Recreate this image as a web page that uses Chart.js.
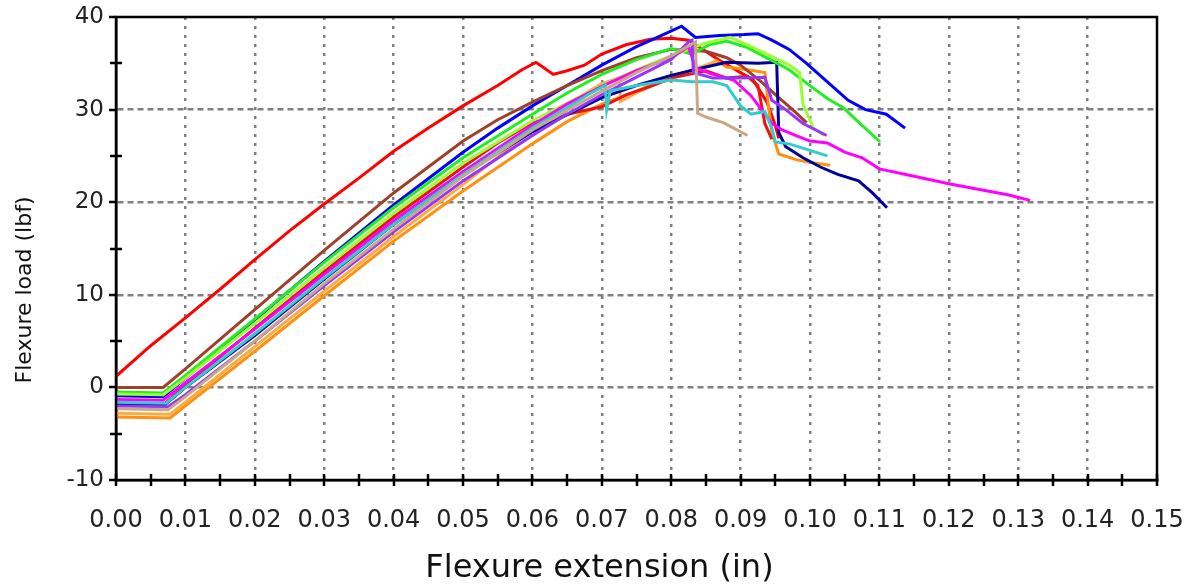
<!DOCTYPE html>
<html>
<head>
<meta charset="utf-8">
<title>Flexure load vs extension</title>
<script src="https://cdn.jsdelivr.net/npm/chart.js@4/dist/chart.umd.min.js"></script>
<style>
  html, body { margin: 0; padding: 0; background: #fff; }
  #wrap { width: 1199px; height: 588px; }
</style>
</head>
<body>
<div id="wrap"><canvas id="flexChart"></canvas></div>
<script>
// axis ranges / tick labels
const xTickLabels = ['0.00','0.01','0.02','0.03','0.04','0.05','0.06','0.07','0.08','0.09','0.10','0.11','0.12','0.13','0.14','0.15'];
const yTickLabels = [-10, 0, 10, 20, 30, 40];
const xTitle = 'Flexure extension (in)';
const yTitle = 'Flexure load (lbf)';

// specimen curves, [extension (in), load (lbf)]
const redEarly = [[0,1.2],[0.005,4.5],[0.01,7.5],[0.015,10.6],[0.02,13.8],[0.025,16.9],[0.03,19.8],[0.035,22.6],[0.04,25.5],[0.045,28.0],[0.05,30.4],[0.055,32.6],[0.0585,34.3],[0.0605,35.1],[0.0615,34.6],[0.063,33.8],[0.065,34.2],[0.0675,34.8],[0.07,36.0],[0.0735,37.0],[0.077,37.6],[0.08,37.7],[0.0825,37.5],[0.087,35.3],[0.0918,33.2],[0.0938,30.8],[0.095,28.3],[0.0955,26.9]];
const redLate = [[0,-1.8],[0.0068,-1.9],[0.01,0.2],[0.02,6.4],[0.03,12.5],[0.04,18.4],[0.05,23.8],[0.055,26.4],[0.06,28.6],[0.065,29.5],[0.07,30.3],[0.0735,31.6],[0.077,32.5],[0.0805,33.5],[0.085,34.2],[0.088,33.4],[0.091,33.6],[0.0925,32.6],[0.0935,28.5],[0.0945,26.8]];
const brown = [[0,0],[0.0068,0],[0.01,2.0],[0.02,8.4],[0.03,14.8],[0.04,21.0],[0.05,26.6],[0.055,28.9],[0.06,30.8],[0.065,32.6],[0.07,34.2],[0.075,35.6],[0.08,36.5],[0.085,36.3],[0.088,35.6],[0.09,34.8],[0.093,33.0],[0.0955,31.3],[0.0975,30.0],[0.0995,28.6]];
const blue = [[0,-0.9],[0.0068,-1.0],[0.01,1.0],[0.02,7.3],[0.03,13.6],[0.04,19.7],[0.05,25.4],[0.055,28.0],[0.06,30.4],[0.065,32.6],[0.07,34.8],[0.075,36.8],[0.078,37.8],[0.0815,39.0],[0.0835,37.8],[0.087,38.0],[0.0905,38.1],[0.0925,38.2],[0.0945,37.5],[0.097,36.5],[0.0995,35.0],[0.1025,33.0],[0.1055,31.0],[0.108,30.0],[0.111,29.5],[0.1137,28.0]];
const navy = [[0,-1.8],[0.007,-1.9],[0.01,0.0],[0.02,5.6],[0.03,11.7],[0.04,17.6],[0.05,23.0],[0.06,27.6],[0.07,31.3],[0.075,32.6],[0.08,33.7],[0.085,34.6],[0.088,35.1],[0.0925,35.0],[0.0952,35.1],[0.0955,27.5],[0.0965,26.0],[0.099,24.8],[0.1015,23.8],[0.104,23.0],[0.107,22.3],[0.109,21.0],[0.1111,19.4]];
const green = [[0,-0.5],[0.0068,-0.6],[0.01,1.3],[0.02,7.4],[0.03,13.5],[0.04,19.4],[0.05,24.8],[0.06,29.5],[0.065,31.8],[0.07,33.8],[0.075,35.4],[0.08,36.6],[0.083,36.0],[0.0855,37.0],[0.088,37.4],[0.091,36.7],[0.094,35.5],[0.097,34.3],[0.0996,32.8],[0.1025,31.2],[0.1048,30.2],[0.1075,28.3],[0.1101,26.5]];
const lime = [[0,-0.7],[0.0068,-0.8],[0.01,1.0],[0.02,6.9],[0.03,12.9],[0.04,18.8],[0.05,24.2],[0.06,28.8],[0.07,32.6],[0.075,34.3],[0.08,35.8],[0.085,37.2],[0.0885,37.8],[0.091,37.0],[0.094,35.9],[0.097,34.8],[0.0985,34.0],[0.099,30.5],[0.1005,28.0],[0.102,27.2]];
const magenta = [[0,-1.3],[0.0068,-1.4],[0.01,0.5],[0.02,6.3],[0.03,12.2],[0.04,18.0],[0.05,23.3],[0.06,28.3],[0.065,30.6],[0.07,32.5],[0.075,34.2],[0.08,35.6],[0.0825,36.8],[0.0835,34.5],[0.086,33.8],[0.089,33.2],[0.0915,31.5],[0.093,30.0],[0.0945,28.5],[0.096,27.8],[0.098,27.2],[0.1,26.6],[0.1025,26.4],[0.105,25.4],[0.1075,24.8],[0.11,23.6],[0.115,22.8],[0.12,22.0],[0.125,21.3],[0.1285,20.8],[0.1317,20.2]];
const purple = [[0,-2.0],[0.0075,-2.1],[0.01,-0.8],[0.02,5.0],[0.03,11.0],[0.04,16.8],[0.05,22.3],[0.06,27.2],[0.065,29.5],[0.07,31.6],[0.075,33.5],[0.08,35.4],[0.0825,37.3],[0.083,37.5],[0.0832,34.0],[0.086,33.4],[0.09,33.4],[0.0935,33.5],[0.0945,31.0],[0.0965,30.0],[0.099,28.5],[0.1024,27.2]];
const orange = [[0,-3.2],[0.0078,-3.3],[0.01,-2.0],[0.02,3.9],[0.03,9.9],[0.04,15.8],[0.05,21.2],[0.06,26.3],[0.065,28.7],[0.07,30.6],[0.075,32.0],[0.08,33.6],[0.085,34.7],[0.0865,35.3],[0.088,34.6],[0.091,34.3],[0.0935,34.0],[0.094,30.5],[0.0945,27.5],[0.0955,25.2],[0.098,24.6],[0.1,24.3],[0.1029,24.0]];
const lightOrange = [[0,-2.8],[0.0078,-2.9],[0.01,-1.6],[0.02,4.4],[0.03,10.4],[0.04,16.3],[0.05,21.9],[0.06,27.8],[0.065,30.6],[0.07,32.8],[0.0725,33.4],[0.0727,30.9],[0.075,31.8],[0.08,33.5],[0.085,34.8],[0.0865,35.2]];
const cyan = [[0,-1.6],[0.0072,-1.7],[0.01,0.0],[0.02,5.8],[0.03,11.8],[0.04,17.6],[0.05,23.0],[0.06,28.0],[0.065,30.2],[0.068,31.6],[0.0705,32.6],[0.0707,30.0],[0.0712,32.0],[0.075,32.6],[0.08,33.2],[0.083,33.0],[0.086,33.0],[0.088,32.6],[0.09,30.4],[0.0915,29.5],[0.0935,29.8],[0.0945,28.0],[0.095,26.5],[0.097,26.3],[0.1,25.6],[0.1025,25.0]];
const tan = [[0,-2.3],[0.0075,-2.4],[0.01,-1.0],[0.02,5.0],[0.03,11.2],[0.04,17.1],[0.05,22.8],[0.06,27.8],[0.07,32.0],[0.075,34.0],[0.08,35.8],[0.0835,37.3],[0.0838,29.6],[0.085,29.2],[0.0875,28.6],[0.089,28.0],[0.091,27.2]];

const seriesList = [
  { name: 'tan', pts: tan, color: '#c8a888' },
  { name: 'cyan', pts: cyan, color: '#33cccc' },
  { name: 'purple', pts: purple, color: '#9933ff' },
  { name: 'magenta', pts: magenta, color: '#ff00ff' },
  { name: 'lime', pts: lime, color: '#99ff33' },
  { name: 'green', pts: green, color: '#22ee22' },
  { name: 'navy', pts: navy, color: '#000099' },
  { name: 'brown', pts: brown, color: '#a0402a' },
  { name: 'redLate', pts: redLate, color: '#ee1111' },
  { name: 'lightOrange', pts: lightOrange, color: '#ffaa40' },
  { name: 'orange', pts: orange, color: '#ff9010' },
  { name: 'blue', pts: blue, color: '#0000ff' },
  { name: 'redEarly', pts: redEarly, color: '#ff0000' }
];

const datasets = seriesList.map(s => ({
  label: s.name,
  data: s.pts.map(p => ({ x: p[0], y: p[1] })),
  borderColor: s.color,
  backgroundColor: s.color,
  borderWidth: 3,
  pointRadius: 0,
  showLine: true,
  tension: 0
}));

// box round the plot, tick marks crossing the axes, and the two axis titles
const frameAndTicks = {
  id: 'frameAndTicks',
  afterDraw(chart) {
    const { ctx, chartArea: a, scales } = chart;
    ctx.save();
    ctx.strokeStyle = '#000';
    ctx.lineWidth = 2.5;
    ctx.strokeRect(a.left, a.top, a.right - a.left, a.bottom - a.top);
    ctx.beginPath();
    for (let v = 0; v <= 0.15001; v += 0.005) {
      const px = Math.round(scales.x.getPixelForValue(v));
      ctx.moveTo(px, a.bottom - 6);
      ctx.lineTo(px, a.bottom + 6);
    }
    for (let v = -10; v <= 40; v += 5) {
      const py = Math.round(scales.y.getPixelForValue(v));
      if (v % 10 === 0) {
        ctx.moveTo(a.left - 7, py);
        ctx.lineTo(a.left, py);
      } else {
        ctx.moveTo(a.left - 6, py);
        ctx.lineTo(a.left + 6, py);
      }
    }
    ctx.stroke();

    ctx.fillStyle = '#111';
    ctx.textAlign = 'center';
    ctx.textBaseline = 'middle';
    ctx.font = '32px "DejaVu Sans"';
    ctx.fillText(xTitle, chart.width / 2, 569);
    ctx.translate(25, chart.height / 2 - 4);
    ctx.rotate(-Math.PI / 2);
    ctx.font = '22px "DejaVu Sans"';
    ctx.fillText(yTitle, 0, 0);
    ctx.restore();
  }
};

new Chart(document.getElementById('flexChart'), {
  type: 'scatter',
  data: { datasets: datasets },
  options: {
    responsive: true,
    maintainAspectRatio: false,
    animation: false,
    layout: { padding: { top: 17, right: 42, left: 0, bottom: 0 } },
    plugins: {
      legend: { display: false },
      tooltip: { enabled: false }
    },
    scales: {
      x: {
        type: 'linear',
        min: 0,
        max: 0.15,
        afterFit: scale => {
          scale.height = 108;
          scale.paddingLeft = 0;
          scale.paddingRight = 0;
        },
        afterBuildTicks: scale => {
          scale.ticks = xTickLabels.map(t => ({ value: parseFloat(t) }));
        },
        ticks: {
          autoSkip: false,
          maxRotation: 0,
          padding: 26,
          color: '#222',
          font: { family: 'DejaVu Sans', size: 24 },
          callback: v => v.toFixed(2)
        },
        grid: {
          color: ctx => (ctx.tick && (ctx.tick.value === 0 || ctx.tick.value === 0.15)) ? 'rgba(0,0,0,0)' : '#808080',
          lineWidth: 2.5,
          drawTicks: false
        },
        border: { display: true, color: '#000', width: 2.5, dash: [3, 6] }
      },
      y: {
        type: 'linear',
        min: -10,
        max: 40,
        afterFit: scale => {
          scale.width = 116;
          scale.paddingTop = 0;
          scale.paddingBottom = 0;
        },
        afterBuildTicks: scale => {
          scale.ticks = yTickLabels.map(t => ({ value: t }));
        },
        ticks: {
          padding: 12,
          color: '#222',
          font: { family: 'DejaVu Sans', size: 23 }
        },
        grid: {
          color: ctx => (ctx.tick && (ctx.tick.value === -10 || ctx.tick.value === 40)) ? 'rgba(0,0,0,0)' : '#808080',
          lineWidth: 2.5,
          drawTicks: false
        },
        border: { display: true, color: '#000', width: 2.5, dash: [6, 4] }
      }
    }
  },
  plugins: [frameAndTicks]
});
</script>
</body>
</html>
